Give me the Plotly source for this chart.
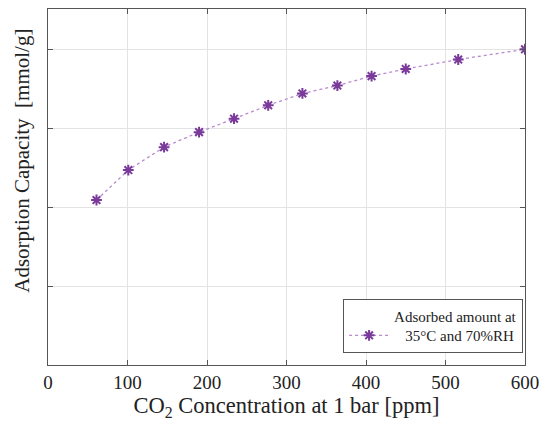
import plotly.graph_objects as go

co2_ppm = [61, 101, 146, 190, 234, 277, 320, 364, 407, 450, 516, 600]
capacity = [2.09, 2.47, 2.76, 2.95, 3.12, 3.29, 3.44, 3.54, 3.66, 3.75, 3.87, 4.0]
x_ticks = [0, 100, 200, 300, 400, 500, 600]
y_grid = [0, 1, 2, 3, 4]
series_name = "Adsorbed amount at<br>\u2002 35\u00b0C and 70%RH"

FONT = "Liberation Serif, Times New Roman, serif"

fig = go.Figure()
fig.add_trace(go.Scatter(
    x=co2_ppm, y=capacity, mode="lines+markers", name=series_name,
    line=dict(color="#B88AD0", width=1.3, dash="dot"),
    marker=dict(symbol="asterisk-open", size=9, color="#7A3A9A",
                line=dict(color="#7A3A9A", width=2)),
))

axis_common = dict(
    showline=True, linecolor="#555", linewidth=1, mirror="ticks",
    ticks="inside", ticklen=5, tickcolor="#555",
    showgrid=True, gridcolor="#e3e3e3", gridwidth=1, zeroline=False,
)
fig.update_xaxes(range=[0, 600], tickvals=x_ticks,
                 tickfont=dict(family=FONT, size=19, color="#222"),
                 title=dict(text="CO<sub>2</sub> Concentration at 1 bar [ppm]",
                            font=dict(family=FONT, size=22.5, color="#222"), standoff=3),
                 **axis_common)
fig.update_yaxes(range=[0, 4.51], tickvals=y_grid, showticklabels=False,
                 **axis_common)

fig.add_annotation(text="Adsorption Capacity  [mmol/g]", textangle=-90,
                   xref="paper", yref="paper", x=-0.055, y=0.573,
                   xanchor="center", yanchor="middle", showarrow=False,
                   font=dict(family=FONT, size=21, color="#222"))

# the page body adds an 8px margin at left/top, so the figure is sized to fit
fig.update_layout(
    width=539, height=422,
    margin=dict(l=40, r=22, t=1, b=65),
    paper_bgcolor="white", plot_bgcolor="white",
    showlegend=True,
    legend=dict(x=0.996, y=0.035, xanchor="right", yanchor="bottom",
                bgcolor="white", bordercolor="#555", borderwidth=1,
                font=dict(family=FONT, size=15, color="#222"),
                valign="bottom", itemwidth=40),
)
fig.write_html("out.html")
